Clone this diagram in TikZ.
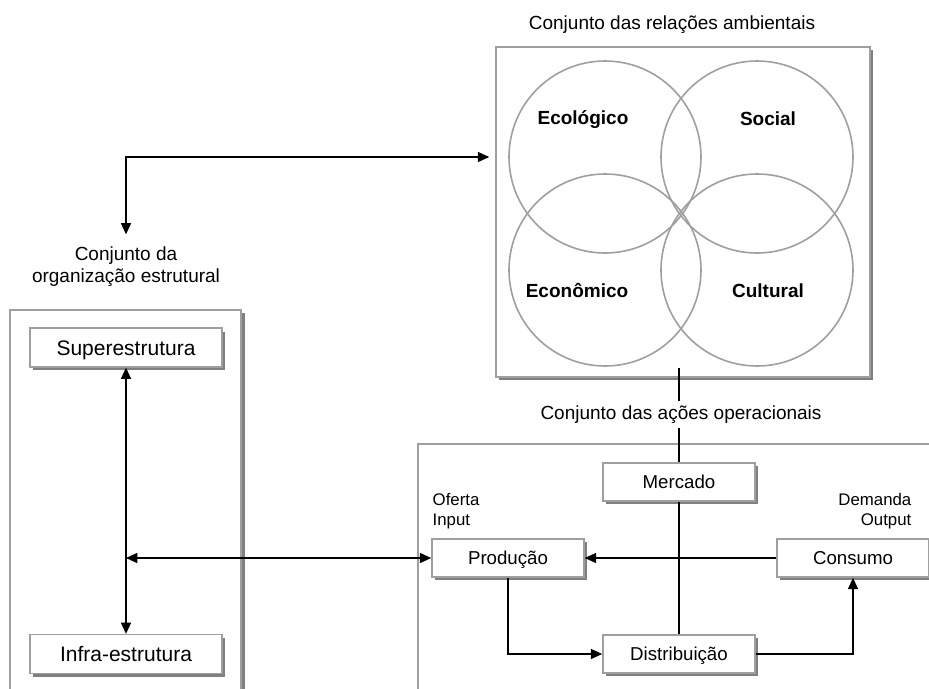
\documentclass[tikz,border=0pt]{standalone}
\usepackage{fontspec}
\setmainfont{Liberation Sans}
\usetikzlibrary{arrows.meta,shadows,calc}

\begin{document}
\begin{tikzpicture}[x=0.75pt,y=-0.75pt,
  >={Triangle[length=8.5pt,width=7.5pt]},
  conn/.style={line width=1.2pt},
  frame/.style={draw=gray!75,line width=1.2pt},
  box/.style={draw=gray!75,line width=1.2pt,fill=white,inner sep=0pt,
    minimum width=114pt,minimum height=28.5pt,font=\fontsize{14}{16}\selectfont,
    text height=10pt,text depth=0pt,
    drop shadow={shadow xshift=2.6pt,shadow yshift=-2.6pt,fill=gray,opacity=1}},
  bigbox/.style={box,minimum width=144pt,minimum height=29pt,
    font=\fontsize{15.75}{18}\selectfont,text height=11.3pt},
  circ/.style={draw=gray!75,line width=1.2pt},
  lbl/.style={font=\fontsize{14.25}{16.5}\selectfont,align=center},
  title/.style={lbl,inner sep=0pt,text height=10.2pt,text depth=0pt},
  small/.style={font=\fontsize{12.6}{14.5}\selectfont},
  area/.style={font=\bfseries\fontsize{14.25}{16.5}\selectfont,
    text height=10.3pt,text depth=0pt}]
\useasboundingbox (0,0) rectangle (929,689);
\def\rad{96}

% frames of the two lower sets
\draw[frame] (10,689) -- (10,310) -- (241,310) -- (241,689);
\draw[gray,line width=2.4pt] (243.5,313) -- (243.5,689);
\draw[frame] (418,689) -- (418,444) -- (929,444);

% environmental relations
\node[box,minimum width=280.5pt,minimum height=247.5pt] (amb) at (683,212) {};
\coordinate (ecoC)  at (605,157);
\coordinate (socC)  at (757,157);
\coordinate (econC) at (605,270);
\coordinate (cultC) at (757,270);
\foreach \c in {ecoC,socC,econC,cultC}
  \draw[circ] (\c) circle[radius=\rad];
\node[area] (eco)  at (583,118) {Ecológico};
\node[area] (soc)  at (768,119) {Social};
\node[area] (econ) at (577,291) {Econômico};
\node[area] (cult) at (768,291) {Cultural};

% titles
\node[title] (ambT) at (672,22.5) {Conjunto das relações ambientais};
\node[title] (opT)  at (681,413)  {Conjunto das ações operacionais};
\node[lbl]   (orgT) at (126,267)  {Conjunto da\\organização estrutural};

% structural organization
\node[bigbox] (super) at (126,347.5) {Superestrutura};
\node[bigbox] (infra) at (126,654)   {Infra-estrutura};

% operational actions
\node[box] (merc) at (679,482) {Mercado};
\node[box] (prod) at (508,558) {Produção};
\node[box] (cons) at (853,558) {Consumo};
\node[box] (dist) at (679,654) {Distribuição};
\node[small,align=left,anchor=west]  (oferta)  at (428,511) {Oferta\\Input};
\node[small,align=right,anchor=east] (demanda) at (916,511) {Demanda\\Output};

% connectors
\draw[conn,<->,shorten <=6pt,shorten >=4.5pt] (orgT.north) |- (amb.west |- ecoC);
\draw[conn,<->] (super) -- (infra);
\draw[conn,<->] (super |- prod) -- (prod);
\draw[conn,->] (cons) -- (prod);
\draw[conn,->] (prod) |- (dist);
\draw[conn,->] (dist) -| (cons);
\draw[conn] (merc) -- (dist);
\draw[conn] ($(merc.north |- amb.south)+(0,-10)$) -- ($(merc.north |- opT.north)+(0,-5)$);
\draw[conn] ($(merc.north |- opT.south)+(0,8)$) -- (merc.north);
\end{tikzpicture}
\end{document}
